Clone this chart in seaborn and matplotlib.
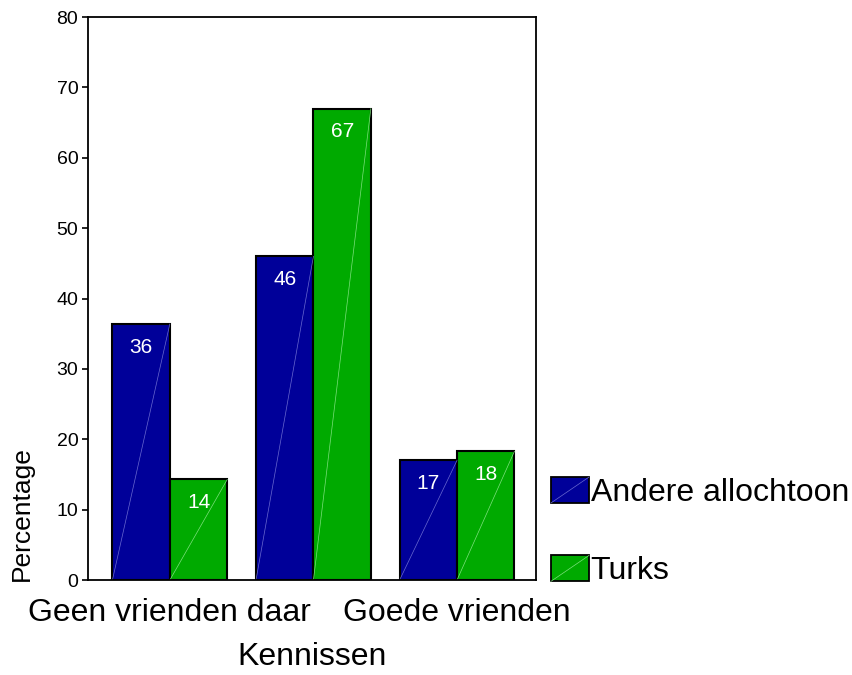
import pandas as pd
import numpy as np
import matplotlib.pyplot as plt
import seaborn as sns
from matplotlib.legend_handler import HandlerPatch
from matplotlib.lines import Line2D

# Data
categories = ["Geen vrienden daar", "Kennissen daar", "Goede vrienden"]
shown_ticks = ["Geen vrienden daar", "", "Goede vrienden"]
groups = ["Andere allochtoon", "Turks"]
andere = [36.4, 46.0, 17.0]
turks = [14.3, 67.0, 18.3]
colors = ["#000099", "#00aa00"]
line_colors = ["#6a6ad0", "#7ee07e"]

df = pd.DataFrame({
    "Kennissen": categories * 2,
    "groep": [groups[0]] * 3 + [groups[1]] * 3,
    "Percentage": andere + turks,
})

sns.set_style("white")
plt.rcParams["font.family"] = ["Liberation Sans", "DejaVu Sans"]
plt.rcParams["text.color"] = "black"
plt.rcParams["axes.labelcolor"] = "black"
plt.rcParams["xtick.color"] = "black"
plt.rcParams["ytick.color"] = "black"

fig = plt.figure(figsize=(8.52, 6.75), dpi=100)
ax = fig.add_axes([0.1033, 0.1407, 0.5258, 0.8341])

sns.barplot(data=df, x="Kennissen", y="Percentage", hue="groep",
            order=categories, hue_order=groups, palette=colors, saturation=1,
            width=0.8, edgecolor="black", linewidth=1.5, ax=ax, legend=False)

# thin diagonal line inside each bar, plus the rounded value label
for bars, lc in zip(ax.containers, line_colors):
    for p in bars:
        x0, y0 = p.get_x(), p.get_y()
        w, h = p.get_width(), p.get_height()
        ax.plot([x0, x0 + w], [y0, y0 + h], color=lc, lw=0.5, zorder=p.get_zorder() + 0.1)
        ax.annotate(f"{h:.0f}", (x0 + w / 2, h), xytext=(0, -10), textcoords="offset points",
                    ha="center", va="top", color="white", fontsize=15)

ax.set_xlim(-0.57, 2.55)
ax.set_ylim(0, 80)
ax.set_yticks(range(0, 81, 10))
ax.set_xticks(range(3))
ax.set_xticklabels(shown_ticks, fontsize=23)
ax.tick_params(axis="x", length=0, pad=13)
ax.tick_params(axis="y", left=True, length=4, width=1.2, labelsize=14, pad=3, direction="out")
ax.set_xlabel("Kennissen", fontsize=23, labelpad=10)
ax.set_ylabel("Percentage", fontsize=19, labelpad=0)
ax.yaxis.set_label_coords(-0.12, 0.118)
for s in ax.spines.values():
    s.set_visible(True)
    s.set_color("black")
    s.set_linewidth(1.3)


class DiagHandler(HandlerPatch):
    def __init__(self, lc):
        super().__init__()
        self.lc = lc

    def create_artists(self, legend, orig_handle, xdescent, ydescent, width, height, fontsize, trans):
        arts = super().create_artists(legend, orig_handle, xdescent, ydescent, width, height, fontsize, trans)
        ln = Line2D([-xdescent, -xdescent + width], [-ydescent, -ydescent + height],
                    color=self.lc, lw=0.5, transform=trans)
        return arts + [ln]


handles = [plt.Rectangle((0, 0), 1, 1, facecolor=c, edgecolor="black", lw=1.3) for c in colors]
ax.legend(handles, groups, loc="upper left", bbox_to_anchor=(1.033, 0.183), frameon=False,
          fontsize=23, handlelength=1.2, handleheight=0.88, handletextpad=0.05,
          labelspacing=1.48, borderpad=0, borderaxespad=0,
          handler_map={h: DiagHandler(lc) for h, lc in zip(handles, line_colors)})

fig.savefig("out.png", dpi=100)
